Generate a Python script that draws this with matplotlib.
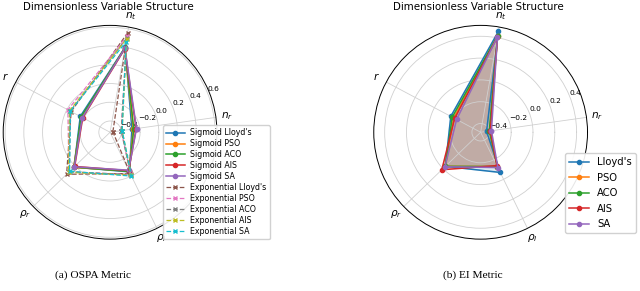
import numpy as np
import matplotlib.pyplot as plt

# axes order (counter-clockwise, first one just above horizontal)
categories = [r'$n_r$', r'$n_t$', r'$r$', r'$\rho_r$', r'$\rho_l$']
methods = ["Lloyd's", 'PSO', 'ACO', 'AIS', 'SA']

# OSPA metric (values at n_r, n_t, r, rho_r, rho_l)
sigmoid_lloyd = [-0.285, 0.40, -0.16, 0.015, -0.05]
sigmoid_pso = [-0.27, 0.39, -0.175, 0.02, -0.06]
sigmoid_aco = [-0.265, 0.395, -0.17, 0.015, -0.055]
sigmoid_ais = [-0.24, 0.385, -0.19, 0.005, -0.065]
sigmoid_sa = [-0.235, 0.39, -0.185, 0.01, -0.07]

exp_lloyd = [-0.49, 0.555, -0.05, 0.125, -0.03]
exp_pso = [-0.40, 0.52, -0.01, 0.09, -0.02]
exp_aco = [-0.40, 0.50, -0.04, 0.085, -0.015]
exp_ais = [-0.39, 0.49, -0.03, 0.095, -0.01]
exp_sa = [-0.39, 0.46, -0.04, 0.08, 0.0]

# EI metric
ei_lloyd = [-0.425, 0.46, -0.17, -0.03, -0.07]
ei_pso = [-0.395, 0.415, -0.20, -0.03, -0.13]
ei_aco = [-0.40, 0.42, -0.185, -0.03, -0.13]
ei_ais = [-0.39, 0.41, -0.21, 0.015, -0.14]
ei_sa = [-0.38, 0.41, -0.23, -0.025, -0.12]

ospa_sigmoid = [sigmoid_lloyd, sigmoid_pso, sigmoid_aco, sigmoid_ais, sigmoid_sa]
ospa_exp = [exp_lloyd, exp_pso, exp_aco, exp_ais, exp_sa]
ei_all = [ei_lloyd, ei_pso, ei_aco, ei_ais, ei_sa]

angle_start = 8.0
angles = np.deg2rad(angle_start + np.arange(len(categories)) * 360.0 / len(categories))
angles_closed = np.concatenate([angles, angles[:1]])


def close(vals):
    return np.concatenate([vals, vals[:1]])


def style_axis(ax, rmin, rmax):
    ax.set_ylim(rmin, rmax)
    ax.set_thetagrids(np.rad2deg(angles), categories, fontsize=7.6)
    ax.tick_params(axis='x', pad=-2.5)
    ax.set_yticks([t for t in np.arange(-0.6, 0.61, 0.2) if rmin < t <= rmax + 1e-9])
    ax.tick_params(axis='y', labelsize=5.4)
    ax.set_rlabel_position(22.5)
    ax.grid(True, color='#d0d0d0', linewidth=0.6)
    ax.spines['polar'].set_linewidth(0.7)


fig = plt.figure(figsize=(6.4, 2.91), dpi=100)

# (a) OSPA
ax1 = fig.add_axes([0.005, 0.178, 0.334, 0.735], projection='polar')
for i, vals in enumerate(ospa_sigmoid):
    ax1.plot(angles_closed, close(vals), '-o', color=f'C{i}', linewidth=1.1,
             markersize=3, label=f'Sigmoid {methods[i]}')
for i, vals in enumerate(ospa_exp):
    ax1.plot(angles_closed, close(vals), '--x', color=f'C{i + 5}', linewidth=0.9,
             markersize=3.5, label=f'Exponential {methods[i]}')
style_axis(ax1, -0.52, 0.62)
ax1.legend(loc='upper left', bbox_to_anchor=(0.255, 0.570), bbox_transform=fig.transFigure,
           borderaxespad=0, fontsize=5.7, labelspacing=0.25, handlelength=2.3,
           borderpad=0.4, handletextpad=0.7, framealpha=0.9)

# (b) EI
ax2 = fig.add_axes([0.584, 0.178, 0.334, 0.735], projection='polar')
for i, vals in enumerate(ei_all):
    ax2.plot(angles_closed, close(vals), '-o', color=f'C{i}', linewidth=1.1,
             markersize=3, label=methods[i])
    ax2.fill(angles_closed, close(vals), color=f'C{i}', alpha=0.15)
style_axis(ax2, -0.48, 0.50)
ax2.legend(loc='upper left', bbox_to_anchor=(0.883, 0.474), bbox_transform=fig.transFigure,
           borderaxespad=0, fontsize=7.2, labelspacing=0.55, borderpad=0.4,
           handletextpad=0.8, framealpha=0.9)

fig.text(0.169, 0.977, 'Dimensionless Variable Structure', fontsize=7.4, ha='center', va='center')
fig.text(0.747, 0.977, 'Dimensionless Variable Structure', fontsize=7.4, ha='center', va='center')

fig.text(0.145, 0.055, '(a) OSPA Metric', fontsize=8.2, family='Liberation Serif',
         ha='center', va='center')
fig.text(0.738, 0.055, '(b) EI Metric', fontsize=8.2, family='Liberation Serif',
         ha='center', va='center')

fig.savefig('out.png', dpi=100)
